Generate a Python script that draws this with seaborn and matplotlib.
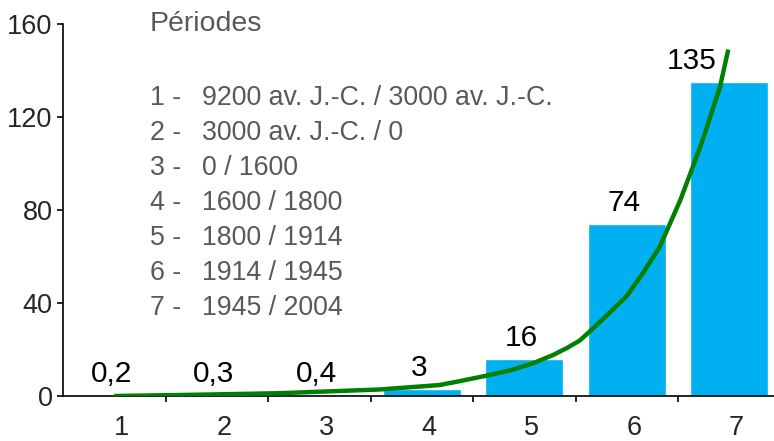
import numpy as np
import matplotlib
matplotlib.use('Agg')
import matplotlib.pyplot as plt
import pandas as pd
import seaborn as sns

# données du graphique
periodes = ['1', '2', '3', '4', '5', '6', '7']
valeurs = [0.2, 0.3, 0.4, 3, 16, 74, 135]
etiquettes = ['0,2', '0,3', '0,4', '3', '16', '74', '135']
legende = ['9200 av. J.-C. / 3000 av. J.-C.', '3000 av. J.-C. / 0', '0 / 1600',
           '1600 / 1800', '1800 / 1914', '1914 / 1945', '1945 / 2004']

# courbe verte
courbe_x = [0.0, 0.74, 1.61, 2.59, 3.17, 3.36, 3.66, 3.86, 4.08, 4.28, 4.41, 4.54,
            4.67, 4.83, 5.00, 5.16, 5.32, 5.42, 5.52, 5.64, 5.74, 5.91, 5.99]
courbe_y = [0, 0.5, 1.2, 2.8, 4.7, 6.3, 9, 11, 14, 17.6, 20.5, 23.8,
            29, 35.7, 43, 53, 64, 74, 84, 98, 110, 133, 149]

# décalage horizontal des étiquettes (points) - le 135 est poussé à gauche de la courbe
decalage = [-2, -2, -2, -2, -2, -2, -27]

sns.set_style('white')
plt.rcParams['font.family'] = ['Liberation Sans', 'DejaVu Sans']

df = pd.DataFrame({'periode': periodes, 'valeur': valeurs})

fig = plt.figure(figsize=(7.74, 4.41), dpi=100)
ax = fig.add_axes([63 / 774, 45 / 441, 1 - 63 / 774, (396 - 24) / 441])

sns.barplot(data=df, x='periode', y='valeur', order=periodes, color='#00B0F0',
            saturation=1, width=0.76, ax=ax)
ax.plot(courbe_x, courbe_y, color='#008000', lw=3.2, zorder=5,
        solid_joinstyle='round', solid_capstyle='butt')

for i, (v, t) in enumerate(zip(valeurs, etiquettes)):
    ax.annotate(t, (i, v), xytext=(decalage[i], 9.4), textcoords='offset points',
                ha='center', va='baseline', fontsize=21.5, color='black', zorder=6)

ax.set_ylim(0, 160)
ax.set_xlim(-0.5, -0.5 + (774 - 63) / 102.5)
ax.set_yticks([0, 40, 80, 120, 160])
ax.set_xticks(np.arange(0.5, 6.5, 1))
ax.set_xticklabels([])
ax.set_xticks(np.arange(7) + 0.07, minor=True)
ax.set_xticklabels(periodes, minor=True)
ax.tick_params(axis='x', which='major', direction='out', length=4, width=1.2, color='black', bottom=True)
ax.tick_params(axis='x', which='minor', length=0, pad=14, labelsize=19.5)
ax.tick_params(axis='y', direction='out', length=4.5, width=1.2, color='black', left=True, pad=3, labelsize=19.5)
ax.set_xlabel('')
ax.set_ylabel('')
for s in ['top', 'right']:
    ax.spines[s].set_visible(False)
for s in ['left', 'bottom']:
    ax.spines[s].set_color('black')
    ax.spines[s].set_linewidth(1.2)

gris = '#595959'
fig.text(150 / 774, 1 - 31 / 441, 'Périodes', fontsize=20.5, color=gris, va='baseline')
for k, txt in enumerate(legende):
    yb = 1 - (105 + 35 * k) / 441
    fig.text(150 / 774, yb, f'{k + 1} -', fontsize=19.3, color=gris, va='baseline')
    fig.text(202 / 774, yb, txt, fontsize=19.3, color=gris, va='baseline')

fig.savefig('out.png', dpi=100)
